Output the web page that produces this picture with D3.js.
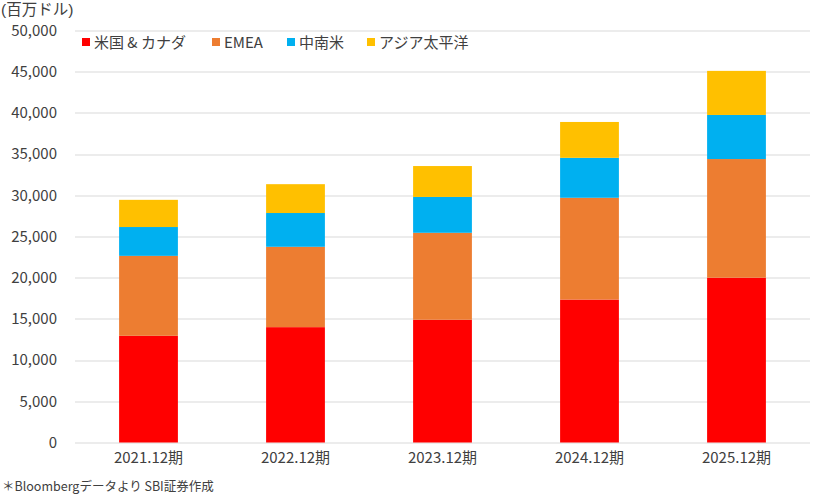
<!DOCTYPE html>
<html>
<head>
<meta charset="utf-8">
<script src="https://cdn.jsdelivr.net/npm/d3@7"></script>
<style>
  body { margin: 0; background: #fff; }
  text { font-family: "Noto Sans CJK JP", "Noto Sans", sans-serif; fill: #404040; }
</style>
</head>
<body>
<div id="chart"></div>
<script>
// data (millions of USD)
var categories = ["2021.12期", "2022.12期", "2023.12期", "2024.12期", "2025.12期"];
var seriesNames = ["米国 & カナダ", "EMEA", "中南米", "アジア太平洋"];
var usCanada = [12950, 14000, 14900, 17350, 20000];
var emea = [9700, 9750, 10550, 12350, 14400];
var latam = [3500, 4100, 4350, 4850, 5350];
var apac = [3300, 3500, 3750, 4350, 5350];
var yTicks = [0, 5000, 10000, 15000, 20000, 25000, 30000, 35000, 40000, 45000, 50000];
var colors = ["#FF0000", "#ED7D31", "#00B0F0", "#FFC000"];

var keys = ["us", "emea", "latam", "apac"];
var data = categories.map(function (c, i) {
    return { cat: c, us: usCanada[i], emea: emea[i], latam: latam[i], apac: apac[i] };
});

var W = 815, H = 496;
var margin = { top: 30.5, right: 5, bottom: 53.5, left: 75 };
var width = W - margin.left - margin.right,
    height = H - margin.top - margin.bottom;

var svg = d3.select("#chart").append("svg")
    .attr("width", W).attr("height", H);
var g = svg.append("g")
    .attr("transform", "translate(" + margin.left + "," + margin.top + ")");

var x = d3.scaleBand()
    .domain(categories)
    .range([0, width])
    .paddingInner(0.6)
    .paddingOuter(0.3);

var y = d3.scaleLinear()
    .domain([0, 50000])
    .range([height, 0]);

var z = d3.scaleOrdinal().domain(keys).range(colors);

// gridlines
g.append("g")
    .selectAll("line")
    .data(yTicks)
    .enter().append("line")
    .attr("x1", 0).attr("x2", width)
    .attr("y1", function (d) { return Math.round(y(d)) + 0.5; })
    .attr("y2", function (d) { return Math.round(y(d)) + 0.5; })
    .attr("stroke", "#D9D9D9")
    .attr("stroke-width", 1);

var stacked = d3.stack().keys(keys)(data);

g.append("g")
    .selectAll("g")
    .data(stacked)
    .enter().append("g")
    .attr("fill", function (d) { return z(d.key); })
    .selectAll("rect")
    .data(function (d) { return d; })
    .enter().append("rect")
    .attr("x", function (d) { return x(d.data.cat); })
    .attr("y", function (d) { return y(d[1]); })
    .attr("height", function (d) { return y(d[0]) - y(d[1]); })
    .attr("width", x.bandwidth());

// y axis labels
var yAxis = g.append("g")
    .call(d3.axisLeft(y).tickValues(yTicks).tickFormat(d3.format(",")).tickSize(0).tickPadding(18));
yAxis.select(".domain").remove();
yAxis.selectAll("text")
    .attr("font-size", 15)
    .style("font-family", "\"Noto Sans CJK JP\", sans-serif")
    .attr("fill", "#404040");

// x axis labels
var xAxis = g.append("g")
    .attr("transform", "translate(0," + height + ")")
    .call(d3.axisBottom(x).tickSize(0).tickPadding(10));
xAxis.select(".domain").remove();
xAxis.selectAll("text")
    .attr("font-size", 15)
    .style("font-family", "\"Noto Sans CJK JP\", sans-serif")
    .attr("fill", "#404040");

// unit label
svg.append("text")
    .attr("x", 1).attr("y", 15)
    .attr("font-size", 15.5)
    .style("font-family", "\"Liberation Sans\", \"Noto Sans CJK JP\", sans-serif")
    .text("(百万ドル)");

// legend
var legendX = [82, 212, 287, 367];
var legend = svg.append("g").selectAll("g")
    .data(seriesNames)
    .enter().append("g")
    .attr("transform", function (d, i) { return "translate(" + legendX[i] + ",38)"; });
legend.append("rect")
    .attr("width", 8).attr("height", 8)
    .attr("fill", function (d, i) { return colors[i]; });
legend.append("text")
    .attr("x", 12).attr("y", 10)
    .attr("font-size", 15)
    .text(function (d) { return d; });

// source note
svg.append("text")
    .attr("x", 2).attr("y", 491)
    .attr("font-size", 12.5)
    .text("＊Bloombergデータより SBI証券作成");
</script>
</body>
</html>
